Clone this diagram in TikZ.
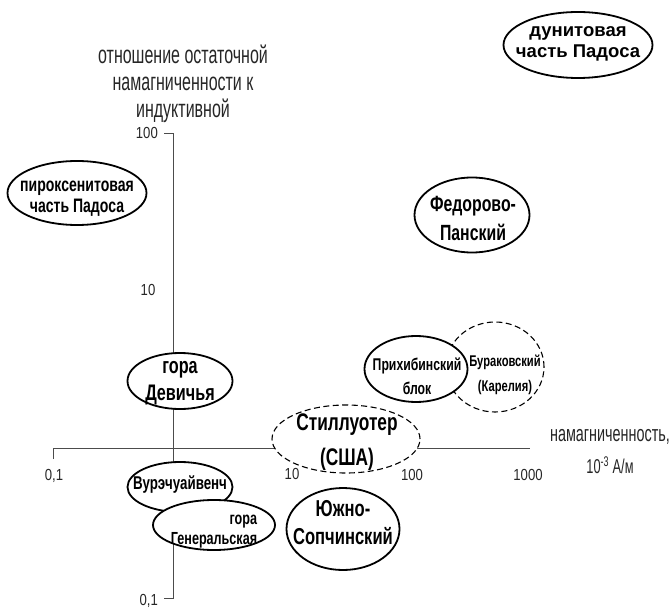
\documentclass[tikz,border=0pt]{standalone}
\usepackage{fontspec}
\setmainfont{Liberation Sans}
\newfontfamily\narrowf[FakeStretch=0.72]{Liberation Sans}
\newfontfamily\condf[FakeStretch=0.64]{Liberation Sans}
\newfontfamily\numf[FakeStretch=0.82]{Liberation Sans}
\newcommand\myfs[2]{\fontsize{#1}{#2}\selectfont}
\usetikzlibrary{shapes.geometric}
\begin{document}
\begin{tikzpicture}[x=1pt,y=-1pt,
  ell/.style={ellipse, draw=black, line width=1.8pt, fill=white, inner sep=0pt},
  dell/.style={ell, line width=1.1pt, dash pattern=on 6pt off 3.5pt},
  axisline/.style={draw=black!70, line width=0.8pt},
  lbl/.style={inner sep=0pt, align=center, font=\narrowf\bfseries},
  ttl/.style={inner sep=0pt, align=center, font={\condf\myfs{25}{27}}, text=black!85},
  num/.style={inner sep=0pt, font={\numf\myfs{16}{18}}, text=black!85}
]
\useasboundingbox (0,0) rectangle (671,612);
% axes
\coordinate (ytop) at (173,133);
\coordinate (ytopl) at (164,133);
\coordinate (ybot) at (173,598);
\coordinate (ybotl) at (164,598);
\coordinate (xleft) at (53,448);
\coordinate (xleftd) at (53,459);
\coordinate (xright) at (530,448);
\draw[axisline] (ytopl) -- (ytop) -- (ybot) -- (ybotl);
\draw[axisline] (xleftd) -- (xleft) -- (xright);
% axis labels
\node[ttl] (title) at (183,84) {отношение остаточной\\намагниченности к\\индуктивной};
\node[num, anchor=east] (y100) at (158,133) {100};
\node[num] (y10) at (148,290) {10};
\node[num, anchor=east] (y01) at (158,601) {0,1};
\node[num] (x01) at (54,476) {0,1};
\node[num] (x10) at (292,474) {10};
\node[num] (x100) at (412,475) {100};
\node[num] (x1000) at (528,475) {1000};
\node[inner sep=0pt, font={\condf\myfs{22.5}{24}}, text=black!85] (xl1) at (610,437) {намагниченность,};
\node[inner sep=0pt, font={\condf\myfs{20}{22}}, text=black!85] (xl2) at (610,465) {10\textsuperscript{-3} А/м};
% ellipses
\node[ell, minimum width=149pt, minimum height=66pt] (dun) at (578,45) {};
\node[lbl, font={\bfseries\myfs{18.5}{20.5}}] (dunt) at (578,44) {дунитовая\\часть Падоса};
\node[ell, minimum width=139pt, minimum height=64pt] (pir) at (77,193) {};
\node[lbl, font={\narrowf\bfseries\myfs{19.5}{21}}] (pirt) at (77,199) {пироксенитовая\\часть Падоса};
\node[ell, minimum width=115pt, minimum height=75pt] (fed) at (472,215) {};
\node[lbl, font={\narrowf\bfseries\myfs{22}{29}}] (fedt) at (473,218) {Федорово-\\Панский};
\node[dell, minimum width=98pt, minimum height=90pt] (bur) at (495,367) {};
\node[lbl, font={\narrowf\bfseries\myfs{15.5}{25}}] (burt) at (505,375) {Бураковский\\(Карелия)};
\node[ell, minimum width=103pt, minimum height=66pt] (prih) at (416,369) {};
\node[lbl, font={\narrowf\bfseries\myfs{17}{24}}] (priht) at (417,376) {Прихибинский\\блок};
\node[ell, minimum width=105pt, minimum height=56pt] (dev) at (180,381) {};
\node[lbl, font={\narrowf\bfseries\myfs{22.5}{27}}] (devt) at (180,383) {гора\\Девичья};
\node[dell, minimum width=148pt, minimum height=68pt] (still) at (346,439) {};
\node[lbl, font={\narrowf\bfseries\myfs{24}{35}}] (stillt) at (347,442) {Стиллуотер\\(США)};
\node[ell, minimum width=105pt, minimum height=50pt] (vur) at (180,487) {};
\node[lbl, font={\narrowf\bfseries\myfs{18.5}{20}}] (vurt) at (180,485) {Вурэчуайвенч};
\node[ell, minimum width=122pt, minimum height=50pt] (gen) at (214,525) {};
\node[lbl, align=right, font={\narrowf\bfseries\myfs{17.5}{20}}] (gent) at (214,532) {гора\\Генеральская};
\node[ell, minimum width=113pt, minimum height=82pt] (yuzh) at (343,529) {};
\node[lbl, font={\narrowf\bfseries\myfs{23}{28}}] (yuzht) at (343,523) {Южно-\\Сопчинский};
\end{tikzpicture}
\end{document}
